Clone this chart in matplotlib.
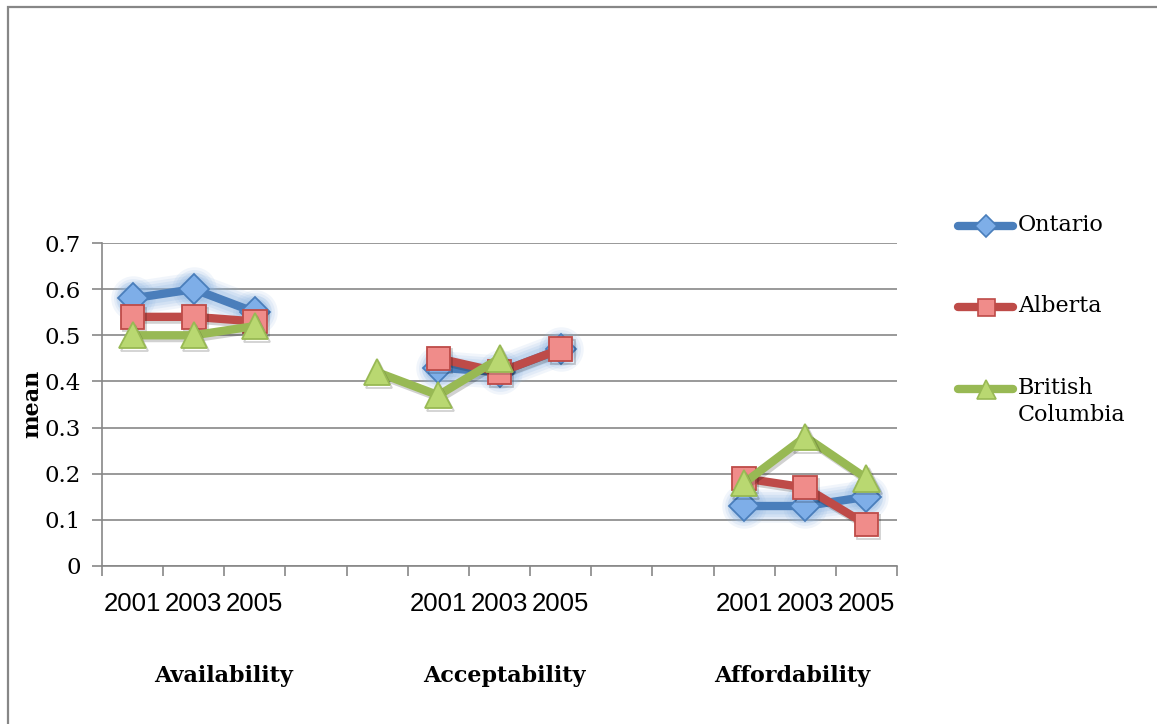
import numpy as np
import matplotlib
matplotlib.use("Agg")
import matplotlib.pyplot as plt
import matplotlib.patheffects as pe
from matplotlib.lines import Line2D
from matplotlib.patches import Rectangle

# ---- data -------------------------------------------------------------
slot_labels = ['2001', '2003', '2005', '', '',
               '2001', '2003', '2005', '', '',
               '2001', '2003', '2005']
groups = ['Availability', 'Acceptability', 'Affordability']
group_pos = [1.49, 6.08, 10.78]

nan = np.nan
ontario = [0.58, 0.60, 0.55, nan, nan, 0.43, 0.42, 0.47, nan, nan, 0.13, 0.13, 0.15]
alberta = [0.54, 0.54, 0.53, nan, nan, 0.45, 0.42, 0.47, nan, nan, 0.19, 0.17, 0.09]
bc      = [0.50, 0.50, 0.52, nan, 0.42, 0.37, 0.45, nan, nan, nan, 0.18, 0.28, 0.19]

series_names = ['Ontario', 'Alberta', 'British\nColumbia']

# ---- styles -----------------------------------------------------------
W, H = 1157, 724
SERIF = 'DejaVu Serif'
SANS = 'Liberation Sans'

grid_c = '#878787'
styles = [
    dict(color='#4A7EBB', marker='D', mfc='#7EAEE8', mec='#4A7EBB', ms=15.5),
    dict(color='#BE4B48', marker='s', mfc='#F08C8A', mec='#BE4B48', ms=17),
    dict(color='#98B954', marker='^', mfc='#B9D871', mec='#98B954', ms=19),
]

fig = plt.figure(figsize=(W / 100, H / 100), dpi=100)

# outer frame of the chart area
fig.add_artist(Rectangle((8 / W, -0.05), 1.2, 1 - 7 / H + 0.05,
                         transform=fig.transFigure, fill=False,
                         edgecolor=grid_c, linewidth=1.6))

x0, x1, y0, y1 = 102, 897, 566, 243
ax = fig.add_axes([x0 / W, 1 - y0 / H, (x1 - x0) / W, (y0 - y1) / H])

x = np.arange(len(slot_labels))

# soft glow behind the Ontario series
for lw, ms, a in [(24, 32, 0.12), (20, 28, 0.14), (16, 24, 0.18), (12, 20, 0.22)]:
    ax.plot(x, ontario, color='#8DB4E2', lw=lw, alpha=a,
            solid_capstyle='round', solid_joinstyle='round', zorder=2)
    ax.plot(x, ontario, ls='none', marker='o', ms=ms, mfc='#8DB4E2',
            mec='none', alpha=a, zorder=2)

shadow = [pe.SimpleLineShadow(offset=(1.5, -2), alpha=0.18, shadow_color='k'), pe.Normal()]
for i, (vals, st) in enumerate(zip([ontario, alberta, bc], styles)):
    ax.plot(x, vals, color=st['color'], lw=6, marker=st['marker'],
            ms=st['ms'], mfc=st['mfc'], mec=st['mec'], mew=1.3,
            solid_joinstyle='round', zorder=3 + i,
            path_effects=shadow if i > 0 else None)

ax.set_xlim(-0.5, len(slot_labels) - 0.5)
ax.set_ylim(0, 0.7)
ax.set_yticks(np.arange(0, 0.71, 0.1))
ax.set_yticklabels(['0'] + [f'{v:.1f}' for v in np.arange(0.1, 0.71, 0.1)])
ax.yaxis.grid(True, color=grid_c, lw=1.2)
ax.set_axisbelow(True)

ax.set_xticks(x)
ax.set_xticklabels(slot_labels, fontfamily=SANS, fontsize=18.5)
ax.set_xticks(np.arange(-0.5, len(slot_labels), 1), minor=True)
ax.tick_params(axis='x', which='major', length=0, pad=19)
ax.tick_params(axis='x', which='minor', length=7, color=grid_c, width=1.2)
ax.tick_params(axis='y', length=7, color=grid_c, width=1.2, pad=8)
for lab in ax.get_yticklabels():
    lab.set_fontfamily(SERIF)
    lab.set_fontsize(16.5)

for s in ['top', 'right']:
    ax.spines[s].set_visible(False)
for s in ['left', 'bottom']:
    ax.spines[s].set_color(grid_c)
    ax.spines[s].set_linewidth(1.2)

for g, gx in zip(groups, group_pos):
    ax.text(gx, (y0 - 676) / (y0 - y1), g, transform=ax.get_xaxis_transform(),
            ha='center', va='center', fontfamily=SERIF, fontweight='bold',
            fontsize=16)

fig.text(32 / W, 1 - 404 / H, 'mean', rotation=90, ha='center', va='center',
         fontfamily=SERIF, fontweight='bold', fontsize=16)

# legend
leg_y = [226, 307, 389]
for name, st, ly in zip(series_names, styles, leg_y):
    fy = 1 - ly / H
    fig.add_artist(Line2D([958 / W, 1013 / W], [fy, fy], transform=fig.transFigure,
                          color=st['color'], lw=6, solid_capstyle='round'))
    fig.add_artist(Line2D([985.5 / W], [fy], transform=fig.transFigure,
                          marker=st['marker'], ms=st['ms'] * 0.72, mfc=st['mfc'],
                          mec=st['mec'], mew=1.2, ls='none'))
    fig.text(1018 / W, fy + 12 / H, name, ha='left', va='top',
             fontfamily=SERIF, fontsize=16, linespacing=1.3)

fig.savefig('out.png', dpi=100)
